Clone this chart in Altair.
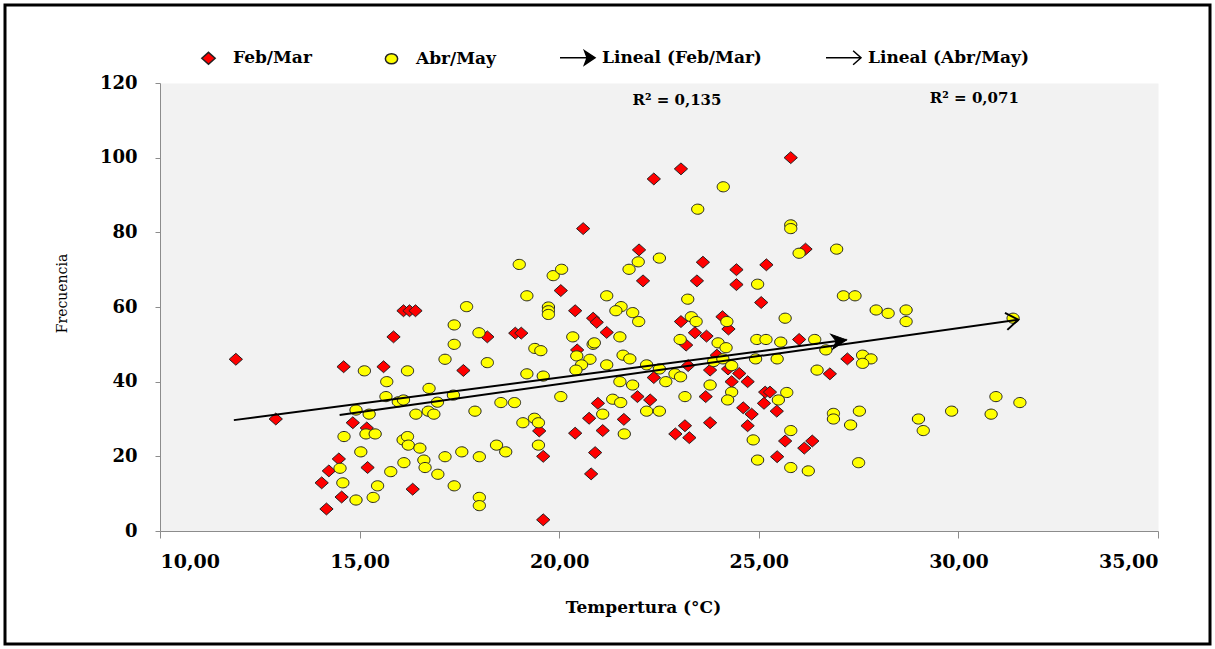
import math
import altair as alt
import pandas as pd

# ---------------- data ----------------
feb_temp = [11.9, 12.9, 14.6, 15.6, 15.85, 16.1, 16.25, 16.4, 17.6, 18.2, 18.9, 19.05,
            20.4, 20.85, 20.45, 20.97, 20.75, 20.4, 20.9, 20.8, 14.83, 15.18, 14.48, 14.23,
            14.05, 14.55, 14.17, 15.2, 16.33, 19.6, 19.5, 19.6, 20.6, 20.04, 23.05, 22.37,
            22.0, 22.1, 23.6, 24.44, 25.19, 23.45, 24.44, 25.06, 20.94, 21.19, 23.05, 23.4,
            23.69, 24.09, 24.24, 25.8, 26.17, 26.01, 23.18, 23.23, 23.95, 24.23, 23.78, 24.51,
            22.37, 24.32, 24.72, 25.16, 25.28, 25.13, 23.67, 22.28, 21.96, 24.61, 24.82, 21.62,
            21.09, 23.15, 22.91, 23.26, 23.78, 24.72, 27.22, 26.78, 25.45, 25.66, 26.14, 26.34,
            25.46]
feb_freq = [46, 30, 44, 44, 52, 59, 59, 59, 43, 52, 53, 53,
            59, 57, 48.5, 34.2, 30.2, 26.2, 21, 15.3, 29, 27.6, 19.3, 16.1,
            12.9, 9.1, 5.9, 17, 11.2, 20, 26.8, 3, 81, 64.4, 97, 94.3,
            75.3, 67, 72, 70, 71.3, 67, 66, 61.2, 55.9, 53.2, 56.1, 53.1,
            52.2, 57.4, 54.1, 100, 75.5, 51.3, 49.8, 44.3, 47.1, 43.4, 43.1, 42.2,
            41.1, 40, 40, 37.2, 37.2, 34.2, 36, 35.1, 36, 33, 31.3, 29.9,
            26.9, 28.2, 26, 25, 29, 28.2, 46.1, 42.1, 32.1, 24.1, 22.2, 24.1,
            19.9]

abr_temp = [15.12, 16.2, 15.68, 15.66, 15.97, 16.1, 16.74, 16.95, 17.35, 17.37, 17.37, 17.14,
            17.68, 17.99, 18.2, 19.19, 19.6, 19.39, 19.54, 19.73, 19.73, 19.73, 20.34, 20.85,
            20.44, 20.77, 20.56, 20.42, 20.04, 17.89, 18.54, 18.88, 14.91, 15.24, 16.41, 16.72,
            16.86, 14.61, 15.16, 15.39, 16.09, 16.2, 16.22, 16.51, 15.03, 14.51, 14.58, 14.91,
            15.34, 15.45, 15.78, 16.11, 16.61, 16.64, 16.96, 17.14, 17.56, 18.0, 17.37, 18.0,
            18.0, 18.43, 18.66, 19.09, 19.38, 19.48, 19.48,
            19.0, 19.85, 20.06, 19.19,
            24.11, 23.47, 21.98, 21.75, 22.51, 24.97, 23.22, 21.19, 21.55, 21.42, 21.84, 21.99,
            21.52, 20.88, 23.31, 23.43, 24.2, 23.03, 23.98, 24.95, 25.18,
            25.8, 25.8, 26.01, 26.95, 27.12, 27.41, 27.94, 28.24, 28.69, 28.69, 31.37, 25.66,
            26.4, 25.55,
            24.18, 21.19, 21.6, 21.77, 22.19, 22.51, 23.87, 24.1, 24.32, 24.92, 22.9, 23.04,
            22.67, 21.52, 21.84, 23.78, 24.32, 24.22, 23.15, 21.34, 21.54, 22.19, 22.51, 21.09,
            21.63, 24.86, 24.97,
            26.68, 25.46, 27.6, 27.81, 27.6, 26.46, 25.7, 25.49, 25.8, 25.8, 26.24, 26.87,
            26.87, 27.52, 27.3, 27.5, 29.0, 29.12, 29.83, 30.82, 30.94, 31.54]
abr_freq = [42.9, 42.9, 40, 36, 34.6, 35.1, 38.2, 34.5, 36.4, 50, 55.2, 46,
            60.1, 53.1, 45.1, 42.1, 41.5, 48.9, 48.3, 60, 59, 58, 52, 50,
            46.9, 46, 44.5, 43.1, 36, 32.1, 34.4, 34.4, 32.4, 31.3, 31.3, 32.1,
            31.3, 25.3, 26, 26, 24.4, 25.3, 23, 22.2, 21.2, 16.8, 12.9, 8.3,
            9, 12.1, 15.9, 18.3, 19, 17, 15.2, 19.9, 21.2, 19.9, 12.1, 9,
            6.8, 23, 21.2, 29, 30.2, 29, 23,
            71.4, 68.4, 70.1, 63,
            92.2, 86.2, 72.1, 70.1, 73.1, 66.1, 62.1, 63, 60.1, 59, 58.5, 56.1,
            52, 50.4, 57.4, 56.1, 56.1, 51.3, 50.4, 51.3, 51.3,
            82, 81, 74.4, 75.5, 63, 63, 59.2, 58.3, 59.2, 56.1, 57, 57,
            51.3, 50.6,
            49.1, 44.5, 47.1, 46.1, 44.5, 43.4, 45.4, 46.1, 44.3, 46.1, 42.1, 41.3,
            40, 40, 39.1, 39.1, 37.2, 35.1, 36, 35.3, 34.4, 32.1, 32.1, 31.3,
            26, 24.4, 19,
            48.5, 46.1, 47.1, 46.1, 44.9, 43.1, 37.1, 35.1, 26.9, 17, 16.1, 31.5,
            30, 32.1, 28.4, 18.3, 30, 26.9, 32.1, 31.3, 36, 34.4]

series_names = ["Feb/Mar", "Abr/May", "Lineal (Feb/Mar)", "Lineal (Abr/May)"]

trend_feb_x = [11.85, 27.2]
trend_feb_y = [29.7, 51.2]
trend_abr_x = [14.5, 31.5]
trend_abr_y = [31.1, 56.6]

r2_labels = ["R² = 0,135", "R² = 0,071"]
r2_x = [22.95, 30.4]
r2_y = [115.5, 116]

x_ticks = [10, 15, 20, 25, 30, 35]
y_ticks = [0, 20, 40, 60, 80, 100, 120]

# ---------------- layout ----------------
W, H = 998, 448
X_DOM = [10, 35]
Y_DOM = [0, 120]
FONT = "DejaVu Serif"

xs = alt.Scale(domain=X_DOM, nice=False, zero=False)
ys = alt.Scale(domain=Y_DOM, nice=False, zero=False)

DIAMOND = "M0,-0.34L0.38,0L0,0.34L-0.38,0Z"
ELLIPSE = "M-0.35,0A0.35,0.29 0 1,0 0.35,0A0.35,0.29 0 1,0 -0.35,0Z"
ARROW_FILLED_LEG = "M-1,0L0.6,0M0.4,-0.4L1,0L0.4,0.4L0.55,0Z"
ARROW_OPEN_LEG = "M-1,0L1,0M0.55,-0.4L1,0L0.55,0.4"
HEAD_FILLED = "M0,0L-1,-0.5L-0.7,0L-1,0.5Z"
HEAD_OPEN = "M-1,-0.7L0,0L-1,0.7"

pts = pd.DataFrame({
    "temp": feb_temp + abr_temp,
    "freq": feb_freq + abr_freq,
    "series": ["Feb/Mar"] * len(feb_temp) + ["Abr/May"] * len(abr_temp),
})

leg = alt.Legend(title=None, orient="none", legendX=30, legendY=-44,
                 direction="horizontal", symbolSize=1225,
                 labelFont=FONT, labelFontWeight="bold", labelFontSize=17,
                 labelColor="black", labelOffset=6, columnPadding=61, labelLimit=400,
                 symbolStrokeWidth=1.5, padding=0)

x_axis = alt.Axis(
    values=x_ticks, title="Tempertura (°C)",
    labelExpr="replace(format(datum.value, '.2f'), '.', ',')",
    labelFontSize=19, labelPadding=14, tickSize=7,
    titleFontSize=17, titleFontWeight="bold", titleX=483, titleY=76,
    titleBaseline="middle", titleAlign="center")
y_axis = alt.Axis(
    values=y_ticks, title="Frecuencia", labelFontSize=18, labelPadding=18,
    tickSize=5, titleFontSize=14, titleFontWeight="normal",
    titleX=-98, titleY=210, titleBaseline="middle", titleAlign="center")

points = alt.Chart(pts).mark_point(filled=True, size=1225, strokeWidth=1, opacity=1).encode(
    x=alt.X("temp:Q", scale=xs, axis=x_axis),
    y=alt.Y("freq:Q", scale=ys, axis=y_axis),
    fill=alt.Fill("series:N", scale=alt.Scale(domain=series_names,
                  range=["#ff0000", "#ffff00", "#000000", "transparent"]), legend=leg),
    stroke=alt.Stroke("series:N", scale=alt.Scale(domain=series_names,
                      range=["#222222", "#222222", "#000000", "#000000"]), legend=leg),
    shape=alt.Shape("series:N", scale=alt.Scale(domain=series_names,
                    range=[DIAMOND, ELLIPSE, ARROW_FILLED_LEG, ARROW_OPEN_LEG]), legend=leg),
)

trend_df = pd.DataFrame({
    "temp": trend_feb_x + trend_abr_x,
    "freq": trend_feb_y + trend_abr_y,
    "trend": ["Lineal (Feb/Mar)"] * 2 + ["Lineal (Abr/May)"] * 2,
})

lines = alt.Chart(trend_df).mark_line(color="black", strokeWidth=2).encode(
    x=alt.X("temp:Q", scale=xs),
    y=alt.Y("freq:Q", scale=ys),
    detail="trend:N",
)

kx = W / (X_DOM[1] - X_DOM[0])
ky = H / (Y_DOM[1] - Y_DOM[0])


def head_angle(xv, yv):
    a = math.degrees(math.atan2((yv[1] - yv[0]) * ky, (xv[1] - xv[0]) * kx))
    return (360 - a) % 360


head_feb = alt.Chart(pd.DataFrame({"temp": [trend_feb_x[1]], "freq": [trend_feb_y[1]]})).mark_point(
    shape=HEAD_FILLED, filled=True, fill="black", stroke="black", strokeWidth=1,
    size=900, angle=head_angle(trend_feb_x, trend_feb_y), opacity=1).encode(
    x=alt.X("temp:Q", scale=xs), y=alt.Y("freq:Q", scale=ys))

head_abr = alt.Chart(pd.DataFrame({"temp": [trend_abr_x[1]], "freq": [trend_abr_y[1]]})).mark_point(
    shape=HEAD_OPEN, filled=False, stroke="black", strokeWidth=2,
    size=600, angle=head_angle(trend_abr_x, trend_abr_y), opacity=1).encode(
    x=alt.X("temp:Q", scale=xs), y=alt.Y("freq:Q", scale=ys))

r2 = alt.Chart(pd.DataFrame({"temp": r2_x, "freq": r2_y, "lab": r2_labels})).mark_text(
    font=FONT, fontWeight="bold", fontSize=15, color="black").encode(
    x=alt.X("temp:Q", scale=xs), y=alt.Y("freq:Q", scale=ys), text="lab:N")

frame = alt.Chart(pd.DataFrame({"k": [0]})).mark_rect(
    filled=False, stroke="black", strokeWidth=3).encode(
    x=alt.value(-155), x2=alt.value(1050), y=alt.value(-78), y2=alt.value(561))

chart = alt.layer(points, lines, head_feb, head_abr, r2, frame).properties(
    width=W, height=H,
    autosize=alt.AutoSizeParams(type="none"),
    padding={"left": 160, "top": 83, "right": 57, "bottom": 118},
    background="white",
).configure_view(fill="#f2f2f2", stroke="transparent").configure_axis(
    domainColor="#8c8c8c", tickColor="#8c8c8c", grid=False,
    labelFont=FONT, labelFontWeight="bold", labelColor="black",
    titleFont=FONT, titleColor="black",
)

chart.save("out.html", embed_options={"renderer": "svg", "actions": False})
